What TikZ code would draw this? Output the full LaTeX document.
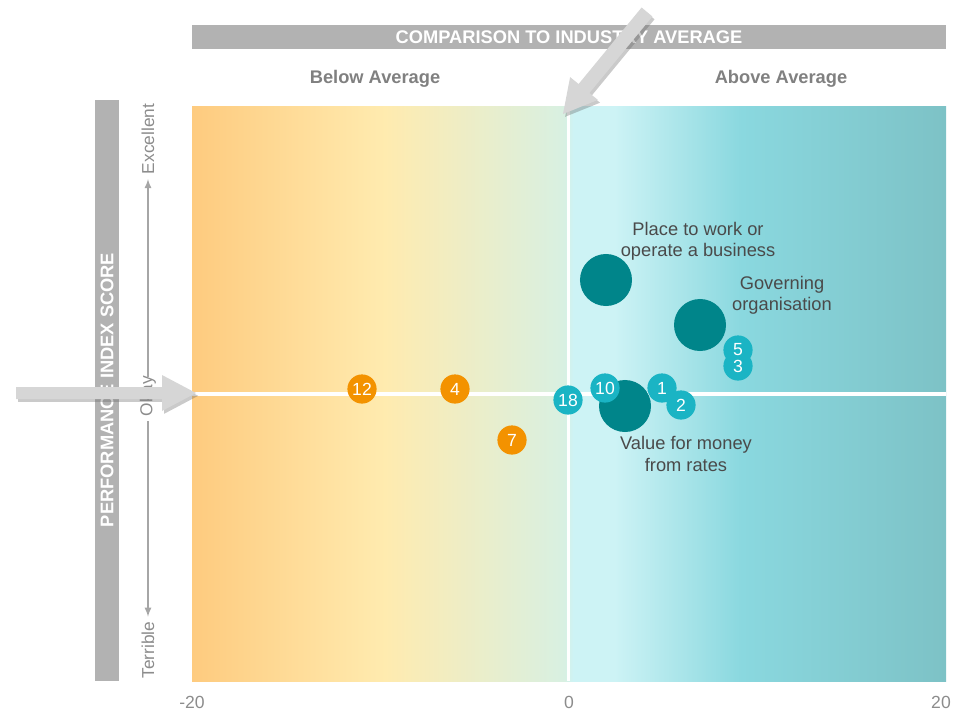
\documentclass[tikz,border=0pt]{standalone}
\usepackage{fontspec}
\setmainfont{Liberation Sans}
\usetikzlibrary{shadows}

\definecolor{barGray}{HTML}{B2B2B2}
\definecolor{sideGray}{HTML}{808080}
\definecolor{tickGray}{HTML}{8C8C8C}
\definecolor{lblGray}{HTML}{4A4A4A}
\definecolor{guideGray}{HTML}{A6A6A6}
\definecolor{arrowGray}{HTML}{D6D6D6}
\definecolor{darkTeal}{HTML}{00858A}
\definecolor{dotCyan}{HTML}{1AB4C4}
\definecolor{dotOrange}{HTML}{F39200}
\definecolor{bgA}{HTML}{FECB7F}
\definecolor{bgB}{HTML}{FFEBAF}
\definecolor{bgC}{HTML}{D8F0E2}
\definecolor{bgD}{HTML}{CDF3F5}
\definecolor{bgE}{HTML}{8AD8DF}
\definecolor{bgF}{HTML}{7DC2C6}
\pgfdeclarehorizontalshading{plotbg}{100bp}{color(0bp)=(bgA); color(25bp)=(bgA); color(37.8bp)=(bgB); color(49.7bp)=(bgC); color(50.3bp)=(bgD); color(53bp)=(bgD); color(61.4bp)=(bgE); color(75bp)=(bgF); color(100bp)=(bgF)}

\begin{document}
\begin{tikzpicture}[>=latex, x=0.025cm, y=-0.025cm,
    bar/.style={fill=barGray},
    head/.style={text=white, font=\fontsize{13}{15}\selectfont\bfseries},
    side/.style={text=sideGray, font=\fontsize{13}{15}\selectfont\bfseries},
    tick/.style={text=tickGray, font=\fontsize{12.5}{15}\selectfont},
    rating/.style={rotate=90, text=tickGray, font=\fontsize{12.3}{14}\selectfont},
    guide/.style={guideGray, line width=1.2pt},
    bigdot/.style={circle, fill=darkTeal, minimum size=1.3cm, inner sep=0},
    numdot/.style={circle, minimum size=0.73cm, inner sep=0},
    hidot/.style={numdot, fill=dotCyan},
    lodot/.style={numdot, fill=dotOrange},
    num/.style={text=white, inner sep=0, font=\fontsize{12.5}{15}\selectfont},
    lbl/.style={align=center, text=lblGray, font=\fontsize{13}{15}\selectfont},
    pointer/.style={fill=arrowGray, drop shadow={shadow xshift=1.5pt, shadow yshift=-2pt, opacity=.35, fill=black!60}}]
\useasboundingbox (0,0) rectangle (961,711);

% header
\fill[bar] (192,25) rectangle (946,49);
\node[head] (cmp) at (569,37) {COMPARISON TO INDUSTRY AVERAGE};
\node[side] (below) at (375,79) {Below Average};
\node[side] (above) at (781,79) {Above Average};

% plot area
\shade[shading=plotbg] (192,106) rectangle (946,681);
\draw[white, line width=2.2pt] (568.5,106) -- (568.5,681);
\draw[white, line width=2.2pt] (192,394) -- (946,394);
\foreach \v/\px [count=\i] in {-20/192, 0/569, 20/941}
{
    \node[tick] (tick\i) at (\px,702) {\v};
}

% side scale
\fill[bar] (95,100) rectangle (119,681);
\node[head, rotate=90] (pis) at (107,390) {PERFORMANCE INDEX SCORE};
\node[rating] (exc) at (148,139) {Excellent};
\node[rating] (okay) at (148,396) {Okay};
\node[rating] (ter) at (148,650) {Terrible};
\draw[->, guide, shorten <=-0.15cm] (okay) -- (exc);
\draw[->, guide] (okay) -- (ter);

% measures
\node[bigdot] (place) at (606,280) {};
\node[bigdot] (gov) at (700,325) {};
\node[bigdot] (vfm) at (625,406) {};
\node[lbl] (placelbl) at (698,241) {Place to work or\\operate a business};
\node[lbl] (govlbl) at (782,295) {Governing\\organisation};
\node[lbl] (vfmlbl) at (686,454) {Value for money\\from rates};

\foreach \n/\x/\y in {18/568/400, 10/605/388, 1/662/388, 2/681/405, 5/738/350, 3/738/366}
{
    \node[hidot] (hi\n) at (\x,\y) {};
}
\foreach \n/\x/\y in {12/362/389, 4/455/389, 7/512/440}
{
    \node[lodot] (lo\n) at (\x,\y) {};
}
\foreach \n in {18,10,1,2,5,3}
{
    \node[num] (hi\n txt) at (hi\n) {\n};
}
\foreach \n in {12,4,7}
{
    \node[num] (lo\n txt) at (lo\n) {\n};
}

% pointers
\fill[pointer] (196,393) -- (162,375) -- (162,387) -- (16,387) -- (16,399) -- (162,399) -- (162,411) -- cycle;
\fill[pointer] (563,114) -- (597.9,99.9) -- (589.4,93) -- (652.4,16.5) -- (641.6,7.5) -- (578.6,84) -- (570.1,77.1) -- cycle;

\end{tikzpicture}
\end{document}
